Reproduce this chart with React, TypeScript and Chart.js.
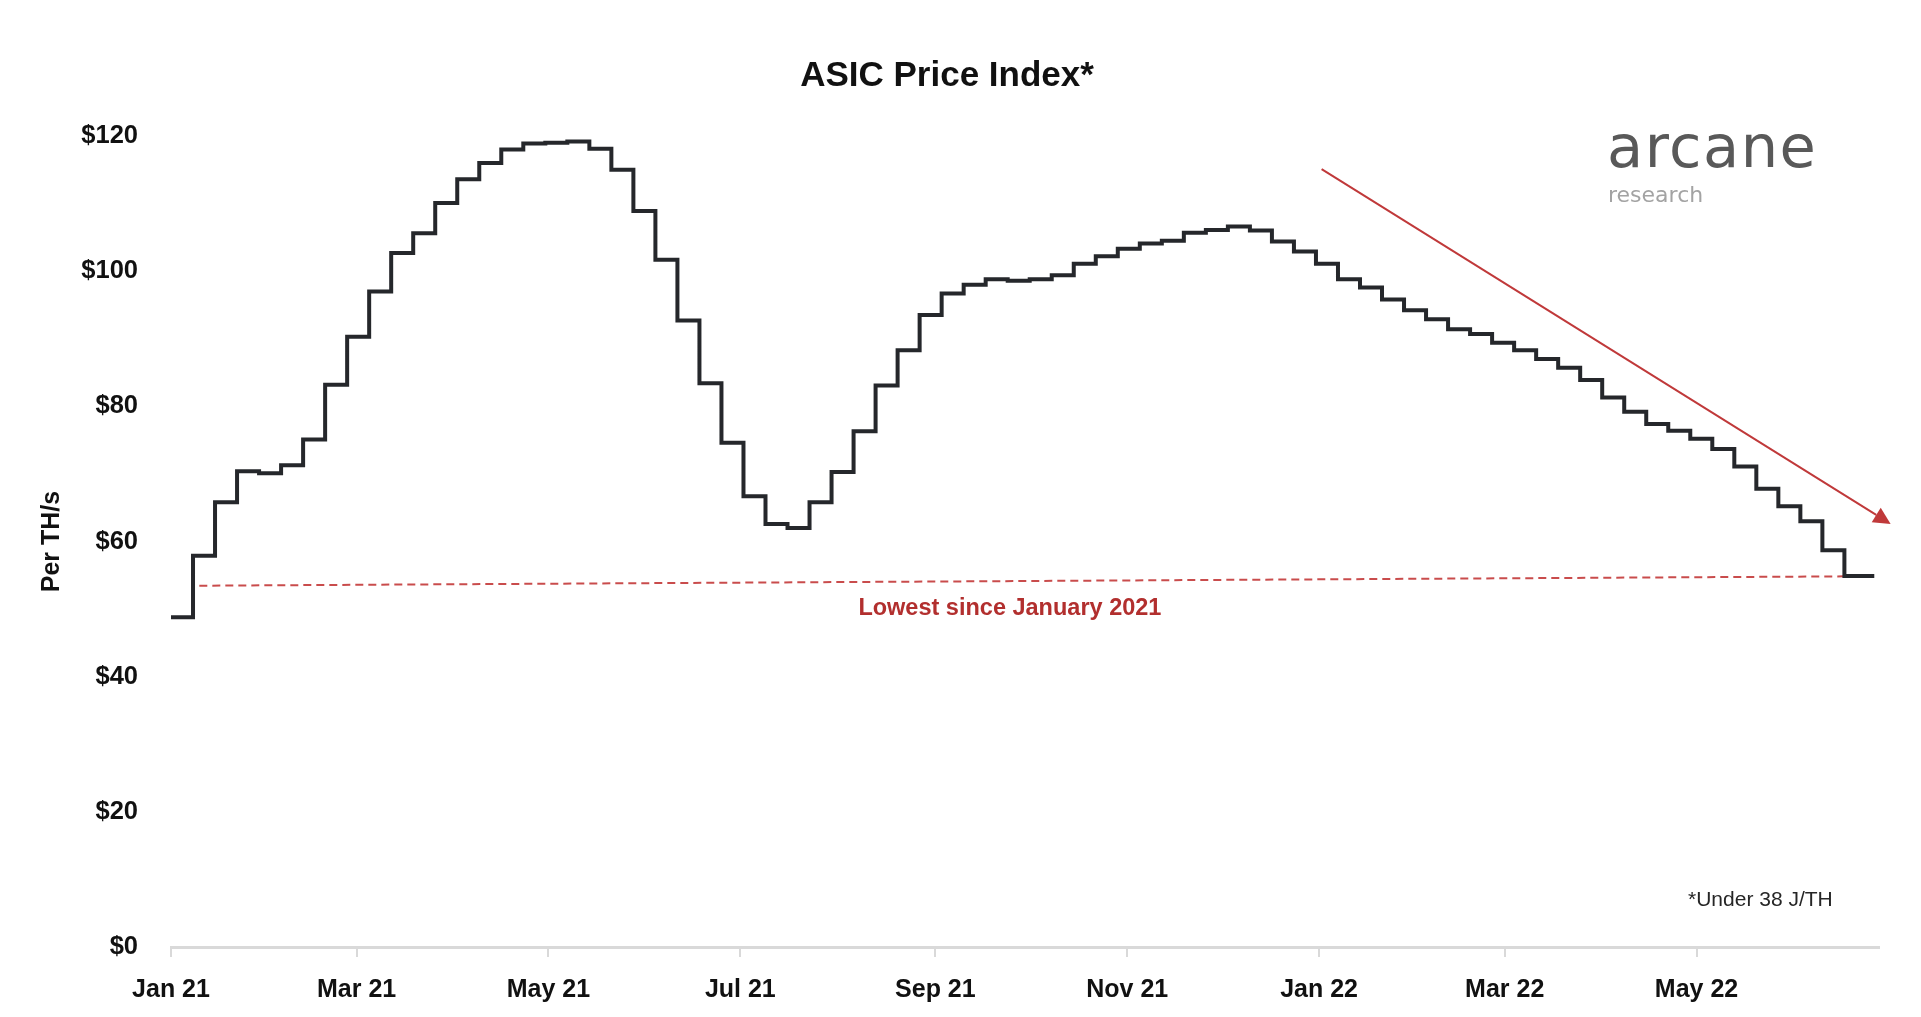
import React, { useEffect, useRef } from "react";
import { Chart, registerables } from "chart.js";

Chart.register(...registerables);

// ---- Data ----
// Weekly ASIC price index (USD per TH/s), first week starting Jan 1 2021 (day 0)
const stepDays = 7;
const lastDay = 541.5; // last date shown (days since Jan 1 2021)
const priceIndex = [
  48.8, 57.9, 65.8, 70.4, 70.1, 71.3, 75.1, 83.2, 90.3, 97.0,
  102.7, 105.6, 110.1, 113.6, 116.0, 118.0, 118.9, 119.0, 119.2, 118.1,
  115.0, 108.9, 101.7, 92.7, 83.4, 74.6, 66.7, 62.6, 62.0, 65.8,
  70.3, 76.3, 83.1, 88.3, 93.5, 96.7, 98.0, 98.8, 98.6, 98.8,
  99.4, 101.1, 102.2, 103.3, 104.1, 104.5, 105.7, 106.1, 106.6, 106.0,
  104.4, 102.9, 101.1, 98.8, 97.6, 95.8, 94.2, 92.9, 91.4, 90.7,
  89.4, 88.3, 87.0, 85.7, 83.9, 81.3, 79.2, 77.4, 76.4, 75.2,
  73.7, 71.1, 67.8, 65.2, 63.0, 58.7, 54.9,
];

// x axis (days since Jan 1 2021)
const xMin = 0;
const xMax = 543;
const tickDays = [0, 59, 120, 181, 243, 304, 365, 424, 485];
const tickLabels = ["Jan 21", "Mar 21", "May 21", "Jul 21", "Sep 21", "Nov 21", "Jan 22", "Mar 22", "May 22"];

// y axis
const yMin = 0;
const yMax = 120;
const yStep = 20;

// annotations (data coordinates: day, USD)
const lowestLine = [
  { x: 9.0, y: 53.46 },
  { x: 531.7, y: 54.84 },
];
const lowestLabel = { x: 266.7, y: 49.1, text: "Lowest since January 2021" };
const trendArrow = [
  { x: 365.8, y: 115.1 },
  { x: 546.7, y: 62.6 },
];

const titleText = "ASIC Price Index*";
const footnoteText = "*Under 38 J/TH";
const yTitle = "Per TH/s";

const FONT = '"Liberation Sans", Arial, Helvetica, sans-serif';
const RED_TEXT = "#b22f2e";
const RED_LINE = "#c0393a";
const RED_DASH = "#c94c4c";

const overlayPlugin = {
  id: "overlay",
  beforeDatasetsDraw(chart: any) {
    const { ctx } = chart;
    const xs = chart.scales.x;
    const ys = chart.scales.y;
    ctx.save();
    ctx.strokeStyle = RED_DASH;
    ctx.lineWidth = 2;
    ctx.setLineDash([8, 5]);
    ctx.beginPath();
    ctx.moveTo(xs.getPixelForValue(lowestLine[0].x), ys.getPixelForValue(lowestLine[0].y));
    ctx.lineTo(xs.getPixelForValue(lowestLine[1].x), ys.getPixelForValue(lowestLine[1].y));
    ctx.stroke();
    ctx.restore();
  },
  afterDraw(chart: any) {
    const { ctx } = chart;
    const xs = chart.scales.x;
    const ys = chart.scales.y;
    ctx.save();

    // Title
    ctx.fillStyle = "#111111";
    ctx.font = `bold 35px ${FONT}`;
    ctx.textAlign = "center";
    ctx.textBaseline = "alphabetic";
    ctx.fillText(titleText, 947, 86);

    // Lowest label
    ctx.fillStyle = RED_TEXT;
    ctx.font = `bold 23.5px ${FONT}`;
    ctx.textAlign = "center";
    ctx.fillText(lowestLabel.text, xs.getPixelForValue(lowestLabel.x), ys.getPixelForValue(lowestLabel.y));

    // Trend arrow
    const x0 = xs.getPixelForValue(trendArrow[0].x);
    const y0 = ys.getPixelForValue(trendArrow[0].y);
    const x1 = xs.getPixelForValue(trendArrow[1].x);
    const y1 = ys.getPixelForValue(trendArrow[1].y);
    const ang = Math.atan2(y1 - y0, x1 - x0);
    const headLen = 17;
    const headHalf = 8.5;
    const bx = x1 - headLen * Math.cos(ang);
    const by = y1 - headLen * Math.sin(ang);
    ctx.strokeStyle = RED_LINE;
    ctx.lineWidth = 2;
    ctx.beginPath();
    ctx.moveTo(x0, y0);
    ctx.lineTo(bx, by);
    ctx.stroke();
    ctx.fillStyle = RED_LINE;
    ctx.beginPath();
    ctx.moveTo(x1, y1);
    ctx.lineTo(bx + headHalf * Math.sin(ang), by - headHalf * Math.cos(ang));
    ctx.lineTo(bx - headHalf * Math.sin(ang), by + headHalf * Math.cos(ang));
    ctx.closePath();
    ctx.fill();

    // Footnote
    ctx.fillStyle = "#262626";
    ctx.font = `21px ${FONT}`;
    ctx.textAlign = "left";
    ctx.fillText(footnoteText, 1688, 906);

    // Logo
    ctx.textAlign = "left";
    ctx.fillStyle = "#595959";
    ctx.font = `59px "DejaVu Sans", sans-serif`;
    try {
      (ctx as any).letterSpacing = "1.5px";
    } catch (e) {}
    ctx.fillText("arcane", 1607, 167);
    try {
      (ctx as any).letterSpacing = "0px";
    } catch (e) {}
    ctx.fillStyle = "#a3a3a3";
    ctx.font = `22px "DejaVu Sans", sans-serif`;
    ctx.fillText("research", 1608, 201.5);

    ctx.restore();
  },
};

export default function App() {
  const canvasRef = useRef<HTMLCanvasElement | null>(null);

  useEffect(() => {
    if (!canvasRef.current) return;
    const points = priceIndex.map((v, i) => ({ x: i * stepDays, y: v }));
    points.push({ x: lastDay, y: priceIndex[priceIndex.length - 1] });

    const chart = new Chart(canvasRef.current, {
      type: "line",
      data: {
        datasets: [
          {
            label: "ASIC Price Index",
            data: points,
            borderColor: "#25272b",
            borderWidth: 4,
            stepped: "before",
            pointRadius: 0,
            fill: false,
            tension: 0,
            borderJoinStyle: "miter",
            borderCapStyle: "butt",
          } as any,
        ],
      },
      options: {
        animation: false,
        responsive: true,
        maintainAspectRatio: false,
        devicePixelRatio: 1,
        layout: { padding: { top: 136, right: 42, bottom: 0, left: 0 } },
        plugins: {
          legend: { display: false },
          tooltip: { enabled: false },
          title: { display: false },
        },
        scales: {
          x: {
            type: "linear",
            min: xMin,
            max: xMax,
            afterBuildTicks: (scale: any) => {
              scale.ticks = tickDays.map((v) => ({ value: v }));
            },
            afterFit: (scale: any) => {
              scale.height = 70;
            },
            ticks: {
              autoSkip: false,
              maxRotation: 0,
              padding: 18,
              color: "#111111",
              font: { family: FONT, size: 25, weight: "bold" },
              callback: (value: any) => {
                const idx = tickDays.indexOf(Number(value));
                return idx >= 0 ? tickLabels[idx] : "";
              },
            },
            grid: {
              display: true,
              drawOnChartArea: false,
              drawTicks: true,
              tickLength: 10,
              color: "#d9d9d9",
              lineWidth: 2,
            },
            border: { display: true, color: "#d9d9d9", width: 3 },
          },
          y: {
            type: "linear",
            min: yMin,
            max: yMax,
            afterFit: (scale: any) => {
              scale.width = 171;
            },
            ticks: {
              stepSize: yStep,
              padding: 33,
              color: "#111111",
              font: { family: FONT, size: 25.5, weight: "bold" },
              callback: (value: any) => "$" + value,
            },
            grid: { display: false, drawTicks: false },
            border: { display: false },
            title: {
              display: true,
              text: yTitle,
              color: "#111111",
              font: { family: FONT, size: 25, weight: "bold" },
              padding: { top: 37, bottom: 0 },
            },
          },
        },
      } as any,
      plugins: [overlayPlugin],
    });
    return () => chart.destroy();
  }, []);

  return (
    <div style={{ position: "fixed", left: 0, top: 0, width: "100vw", height: "100vh", background: "#ffffff" }}>
      <canvas ref={canvasRef} />
    </div>
  );
}
